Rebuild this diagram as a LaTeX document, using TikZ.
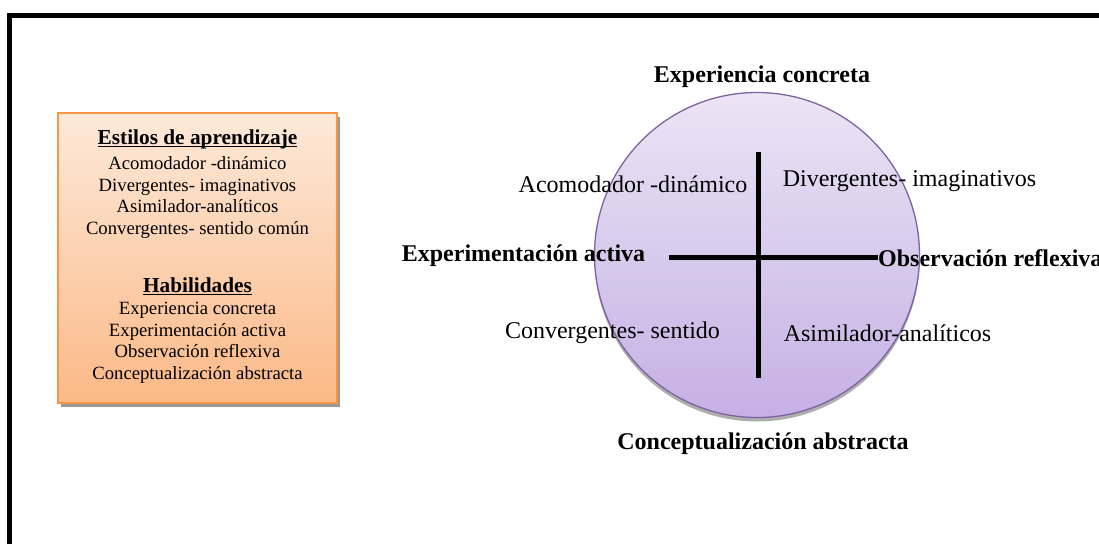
\documentclass[tikz,border=0pt]{standalone}
\usepackage{fontspec}
\setmainfont{Liberation Serif}
\usetikzlibrary{shadows}

\definecolor{boxtop}{HTML}{FDE9D9}
\definecolor{boxbot}{HTML}{FBB987}
\definecolor{boxline}{HTML}{F79646}
\definecolor{circtop}{HTML}{EBE5F5}
\definecolor{circbot}{HTML}{C5B0E4}
\definecolor{circline}{HTML}{7F63A1}

\newcommand{\boxhead}[1]{{\fontsize{21.3}{24}\selectfont\bfseries\underline{\smash{#1}}}}

\tikzset{
  lbl/.style={font=\fontsize{24}{28}\selectfont, inner sep=0pt},
  blbl/.style={font=\fontsize{24}{28}\selectfont\bfseries, inner sep=0pt},
  axis/.style={line width=5pt, draw=black, drop shadow={shadow xshift=2pt, shadow yshift=-3pt, fill=black!45, opacity=.8}},
}

\begin{document}
\begin{tikzpicture}[x=1pt,y=-1pt]
\useasboundingbox (0,0) rectangle (1099,544);

% frame
\path[draw,line width=5pt] (9.5,544) -- (9.5,15.5) -- (1110,15.5);

% box
\node[draw=boxline, line width=1.5pt, top color=boxtop, bottom color=boxbot,
      minimum width=279pt, minimum height=290pt, inner sep=0pt, align=center,
      drop shadow={shadow xshift=3pt, shadow yshift=-3.5pt, fill=black!40, opacity=1},
      font=\fontsize{18.7}{21.8}\selectfont] (estbox) at (197.5,258)
  {\rule{0pt}{12pt}\boxhead{Estilos de aprendizaje}\\[3pt]
   Acomodador -dinámico\\
   Divergentes- imaginativos\\
   Asimilador-analíticos\\
   Convergentes- sentido común\\[36pt]
   \boxhead{Habilidades}\\
   Experiencia concreta\\
   Experimentación activa\\
   Observación reflexiva\\
   Conceptualización abstracta};

% circle
\node[circle, draw=circline, line width=1.3pt, top color=circtop, bottom color=circbot,
      minimum size=325pt, inner sep=0pt,
      drop shadow={shadow xshift=0pt, shadow yshift=-4pt, fill=black!45, opacity=.7}] (kolb) at (757,255) {};

% labels
\node[blbl] (expconc) at (762,77) {Experiencia concreta};
\node[blbl] (concabs) at (763,444) {Conceptualización abstracta};
\node[blbl] (expact) at (523.5,256) {Experimentación activa};
\node[blbl, anchor=west] (obsref) at (878,258) {Observación reflexiva};

\node[lbl] (acom) at (633,184) {Acomodador -dinámico};
\node[lbl] (diverg) at (909.5,181) {Divergentes- imaginativos};
\node[lbl] (converg) at (612.5,333) {Convergentes- sentido};
\node[lbl] (asim) at (887.5,333) {Asimilador-analíticos};

% axes
\coordinate (axtop) at (758,152);
\coordinate (axbot) at (758,378);
\path[axis] (axtop) -- (axbot);
\path (expact.east) ++(24,1) coordinate (axleft);
\path[axis] (axleft) -- (obsref.west |- axleft);
\end{tikzpicture}
\end{document}
